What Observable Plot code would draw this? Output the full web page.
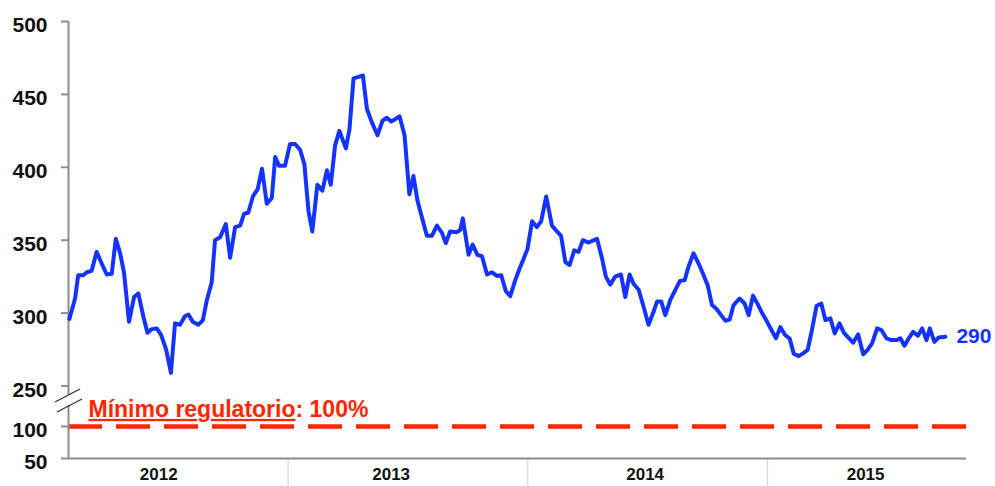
<!DOCTYPE html>
<html><head><meta charset="utf-8">
<script src="https://cdn.jsdelivr.net/npm/d3@7"></script>
<script src="https://cdn.jsdelivr.net/npm/@observablehq/plot@0.6"></script>
<style>html,body{margin:0;padding:0;background:#fff}</style>
</head><body><div id="chart"></div>
<script>
// Dates as decimal years
const dates = [
2012.087,2012.111,2012.124,2012.145,2012.160,2012.180,2012.201,2012.222,2012.243,2012.264,
2012.281,2012.299,2012.315,2012.336,2012.357,2012.375,2012.396,2012.413,2012.431,2012.452,
2012.470,2012.491,2012.511,2012.528,2012.549,2012.570,2012.584,2012.602,2012.625,2012.644,
2012.661,2012.681,2012.695,2012.716,2012.740,2012.758,2012.779,2012.800,2012.816,2012.834,
2012.853,2012.873,2012.891,2012.911,2012.932,2012.946,2012.962,2012.987,2013.008,2013.029,
2013.050,2013.068,2013.085,2013.101,2013.122,2013.143,2013.162,2013.178,2013.196,2013.214,
2013.241,2013.256,2013.273,2013.294,2013.312,2013.329,2013.349,2013.373,2013.394,2013.412,
2013.430,2013.447,2013.465,2013.486,2013.506,2013.523,2013.540,2013.561,2013.579,2013.600,
2013.621,2013.642,2013.658,2013.676,2013.704,2013.718,2013.729,2013.753,2013.770,2013.790,
2013.809,2013.830,2013.851,2013.871,2013.889,2013.909,2013.927,2013.948,2013.966,2013.982,
2013.999,2014.018,2014.038,2014.056,2014.077,2014.101,2014.122,2014.139,2014.157,2014.175,
2014.194,2014.212,2014.230,2014.254,2014.289,2014.310,2014.326,2014.344,2014.365,2014.389,
2014.407,2014.425,2014.442,2014.463,2014.484,2014.504,2014.523,2014.540,2014.557,2014.574,
2014.595,2014.616,2014.635,2014.655,2014.671,2014.692,2014.713,2014.734,2014.751,2014.769,
2014.787,2014.807,2014.825,2014.843,2014.859,2014.884,2014.905,2014.922,2014.940,2014.960,
2014.978,2014.999,2015.017,2015.036,2015.054,2015.074,2015.093,2015.110,2015.131,2015.149,
2015.168,2015.186,2015.205,2015.225,2015.242,2015.263,2015.281,2015.301,2015.319,2015.339,
2015.358,2015.379,2015.400,2015.419,2015.437,2015.458,2015.476,2015.497,2015.518,2015.541,
2015.555,2015.572,2015.590,2015.608,2015.628,2015.646,2015.664,2015.678,2015.697,2015.715,
2015.743
];
const values = [
296,310,326,326,328,329,342,334,326.5,327,
351,341,328,294,311,313.5,297.5,286.5,289,289.5,
285,275,259,293,292,298,299,294,292,295,
309,321,350,352,361,338,359,360,368,369,
380,385,399,375,379,407,401,401,416,416,
412,402,370,356,388,384,398,388,415,425,
413,426,461,462,463,440,431,422,432,434,
431.5,433,435,422,381.5,394,377,364,353,353,
360,355,348,356,355.5,357,365,340,347,340,
339,326.5,328,325.5,326,315,311.6,322.6,330.6,337,
344,363,359,363,380,360,356,353,335,333,
343,342,350,348.4,351,337.5,325,319.5,325,326.5,
311,326.5,320,316,304,292,300,308,308,298.6,
309,316,322,322.6,332,341,334,326,319,305.5,
303,298.6,294.7,295.7,305.5,310,306.6,298.6,312,306,
300,294,288.4,282.7,290.4,285,282.5,272.2,270.5,272.4,
274.7,288.4,304.8,306.6,295.2,296.4,286,293,286.6,283,
279.7,285.4,271.7,275,279.2,289.5,288.4,282.7,281.5,281.5,
282.7,277.6,282.7,287.2,284.5,289.5,281.5,289.5,280.3,283.3,
283.8
];
const yTicks = [50, 100, 250, 300, 350, 400, 450, 500];
const yearLabels = ["2012", "2013", "2014", "2015"];
const yearLabelPos = [2012.46, 2013.43, 2014.49, 2015.41];
const yearBreaks = [2013, 2014, 2015];
const minimumValue = 100;
const minimumLabel = ["Mínimo regulatorio", ": 100%"];
const lastLabel = "290";
const xDomain = [2012.0835, 2015.831];
const yDomain = [50, 100, 250, 500];

const data = dates.map((d, i) => ({date: d, value: values[i]}));
const last = data[data.length - 1];
const blue = "#1433ff";
const red = "#ff2600";
const gray = "#8c8c8c";

const chart = Plot.plot({
  width: 995, height: 486,
  marginLeft: 68, marginRight: 29, marginTop: 21, marginBottom: 28,
  style: {fontFamily: "'Liberation Sans', Arial, sans-serif", background: "#fff", overflow: "visible"},
  x: {type: "linear", domain: xDomain, axis: null},
  y: {type: "linear", domain: yDomain, range: [458, 426, 385.5, 21], axis: null},
  marks: [
    Plot.ruleY([minimumValue], {x1: xDomain[0], x2: xDomain[1], stroke: red, strokeWidth: 4.5, strokeDasharray: "34,14"}),
    Plot.text([minimumLabel.join("")], {x: xDomain[0], y: minimumValue, dx: 20, dy: -17, textAnchor: "start", fill: red, fontSize: 23, fontWeight: "bold"}),
    Plot.ruleX(yearBreaks, {y1: 50, y2: 50, insetBottom: -28, stroke: "#dcdcdc", strokeWidth: 1.5}),
    Plot.ruleY([50], {x1: xDomain[0], x2: xDomain[1], stroke: gray, strokeWidth: 2}),
    Plot.ruleX([{y1: 215, y2: 500}, {y1: 50, y2: 177}], {x: () => xDomain[0], y1: "y1", y2: "y2", stroke: gray, strokeWidth: 2}),
    Plot.ruleY(yTicks, {x1: xDomain[0], x2: xDomain[0], insetLeft: -7, stroke: gray, strokeWidth: 2}),
    Plot.text(yTicks, {x: xDomain[0], y: d => d, text: d => String(d), textAnchor: "end", dx: -21, dy: 4, fontSize: 21, fontWeight: "bold", fill: "#111"}),
    Plot.text(yearLabels, {x: (d, i) => yearLabelPos[i], y: 50, dy: 16, text: d => d, fontSize: 17, fontWeight: "bold", fill: "#111"}),
    Plot.line(data, {x: "date", y: "value", stroke: blue, strokeWidth: 4, strokeLinejoin: "round"}),
    Plot.text([last], {x: "date", y: "value", text: () => lastLabel, dx: 11, textAnchor: "start", fill: blue, fontSize: 21, fontWeight: "bold"})
  ]
});

// Axis break slashes
const sx = chart.scale("x"), sy = chart.scale("y");
const x0 = sx.apply(xDomain[0]);
const yb = sy.apply(250);
const svg = d3.select(chart);
[10, 20].forEach((off, k) => {
  const cx = x0 + (k === 0 ? -0.5 : 1.5), cy = yb + off;
  svg.append("line")
    .attr("x1", cx - 12.5).attr("y1", cy + 6.5)
    .attr("x2", cx + 12.5).attr("y2", cy - 6.5)
    .attr("stroke", "#333").attr("stroke-width", 1.3);
});

// Underline the first part of the minimum label
svg.selectAll("text").each(function() {
  if (this.textContent === minimumLabel.join("")) {
    this.textContent = "";
    d3.select(this).append("tspan").attr("text-decoration", "underline").text(minimumLabel[0]);
    d3.select(this).append("tspan").text(minimumLabel[1]);
  }
});

document.getElementById("chart").appendChild(chart);
</script>
</body></html>
